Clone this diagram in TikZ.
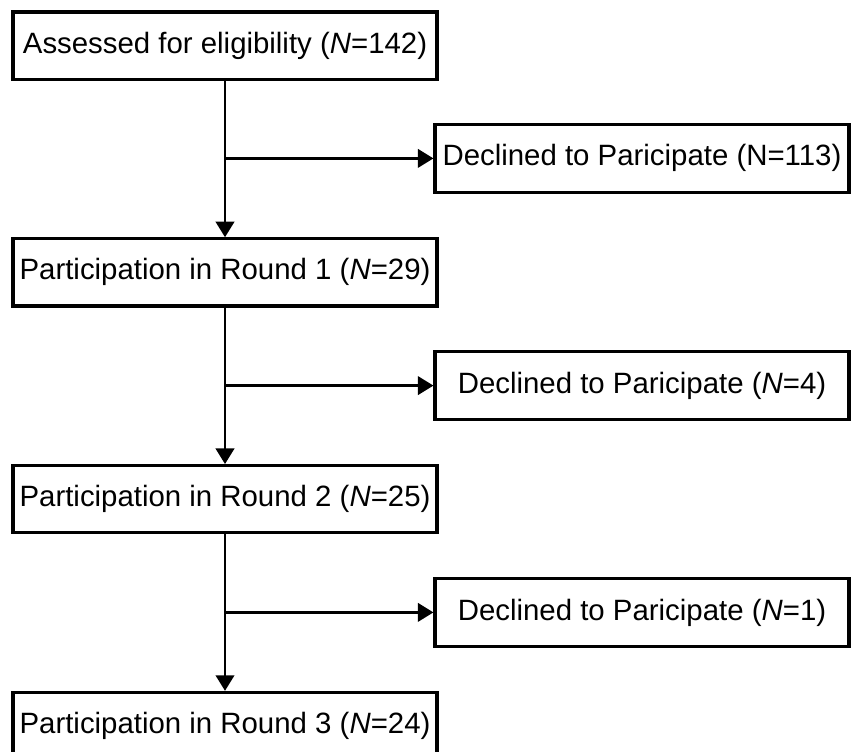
\documentclass[tikz,border=0pt]{standalone}
\usepackage{fontspec}
\setmainfont{Liberation Sans}
\usetikzlibrary{arrows.meta,positioning}

\begin{document}
\begin{tikzpicture}[
        scale=1.0,
        stage/.style={rectangle, draw, line width=2.2pt, minimum width=10.6cm, minimum height=1.68cm, inner sep=0pt, font=\fontsize{20.9}{25}\selectfont},
        drop/.style={rectangle, draw, line width=2.2pt, minimum width=10.35cm, minimum height=1.7cm, inner sep=0pt, font=\fontsize{20.9}{25}\selectfont},
        flow/.style={line width=2pt, -{Triangle[length=3.9mm, width=4.6mm]}},
    ]
        \useasboundingbox (0, 0) rectangle (21.275, -18.8);
        \clip (0, 0) rectangle (21.275, -18.8);

        % Main stages (left column)
        \node[stage] (ELIG) at (5.625, -1.14) {Assessed for eligibility (\textit{N}=142)};
        \node[stage] (ROUND1) at (5.625, -6.81) {Participation in Round 1 (\textit{N}=29)};
        \node[stage] (ROUND2) at (5.625, -12.48) {Participation in Round 2 (\textit{N}=25)};
        \node[stage] (ROUND3) at (5.625, -18.15) {Participation in Round 3 (\textit{N}=24)};

        % Drop-outs (right column)
        \node[drop] (DECL0) at (16.05, -3.96) {Declined to Paricipate (N=113)};
        \node[drop] (DECL1) at (16.05, -9.64) {Declined to Paricipate (\textit{N}=4)};
        \node[drop] (DECL2) at (16.05, -15.31) {Declined to Paricipate (\textit{N}=1)};

        % Branch points on the trunk
        \coordinate (SPLIT0) at (ELIG |- DECL0);
        \coordinate (SPLIT1) at (ELIG |- DECL1);
        \coordinate (SPLIT2) at (ELIG |- DECL2);

        \draw[flow] (ELIG) -- (ROUND1);
        \draw[flow] (ROUND1) -- (ROUND2);
        \draw[flow] (ROUND2) -- (ROUND3);

        \draw[flow] (SPLIT0) -- (DECL0);
        \draw[flow] (SPLIT1) -- (DECL1);
        \draw[flow] (SPLIT2) -- (DECL2);
    \end{tikzpicture}
\end{document}
